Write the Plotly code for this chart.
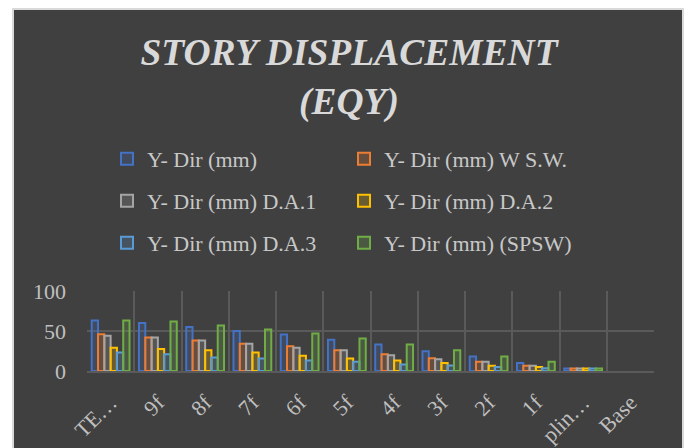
import plotly.graph_objects as go

categories = ["TERRACE", "9f", "8f", "7f", "6f", "5f", "4f", "3f", "2f", "1f", "plinth", "Base"]
tick_labels = ["TE…", "9f", "8f", "7f", "6f", "5f", "4f", "3f", "2f", "1f", "plin…", "Base"]

y_dir = [63, 60, 55, 50, 45.5, 39, 33, 24.6, 18, 10, 3, 0]
y_dir_wsw = [46, 42, 38, 34, 31, 26, 21, 16, 11.7, 6.7, 3, 0]
y_dir_da1 = [44, 42, 38, 34, 29, 26, 19.6, 14.6, 11.7, 6.7, 3, 0]
y_dir_da2 = [29, 27.5, 26, 23, 19, 15.5, 13, 10, 6.7, 5, 3, 0]
y_dir_da3 = [23, 21, 17, 15.5, 13, 11.7, 8, 7, 5, 3.3, 3, 0]
y_dir_spsw = [63, 62, 57, 52, 47, 40.5, 33, 26, 18, 11.7, 3, 0]

series_names = ["Y- Dir (mm)", "Y- Dir (mm) W S.W.", "Y- Dir (mm) D.A.1",
                "Y- Dir (mm) D.A.2", "Y- Dir (mm) D.A.3", "Y- Dir (mm) (SPSW)"]
series_values = [y_dir, y_dir_wsw, y_dir_da1, y_dir_da2, y_dir_da3, y_dir_spsw]
colors = ["#4472C4", "#ED7D31", "#A5A5A5", "#FFC000", "#5B9BD5", "#70AD47"]
legend_ids = ["legend", "legend", "legend2", "legend2", "legend3", "legend3"]

def rgba(hex_color, a):
    h = hex_color.lstrip("#")
    r, g, b = int(h[0:2], 16), int(h[2:4], 16), int(h[4:6], 16)
    return f"rgba({r},{g},{b},{a})"

FONT = "Liberation Serif, Times New Roman, serif"
W, H = 686, 448
L, R, T, B = 87, 32, 291, 77
PW, PH = W - L - R, H - T - B

def px_x(p):
    return (p - L) / PW

def px_y(p):
    return (H - B - p) / PH

fig = go.Figure()
for name, vals, col, lg in zip(series_names, series_values, colors, legend_ids):
    fig.add_trace(go.Bar(
        x=categories, y=[v if v > 0 else None for v in vals], name=name, legend=lg,
        marker=dict(color=rgba(col, 0.22), line=dict(color=col, width=2)),
    ))

fig.add_shape(type="rect", xref="paper", yref="paper",
              x0=px_x(13), x1=px_x(683), y0=px_y(470), y1=px_y(9),
              fillcolor="#404040", line=dict(color="#d9d9d9", width=2), layer="below")

leg_common = dict(orientation="h", xanchor="left", yanchor="middle",
                  bgcolor="rgba(0,0,0,0)", entrywidth=192, entrywidthmode="pixels",
                  font=dict(family=FONT, size=22, color="#c8c8c8"),
                  traceorder="normal")

fig.update_layout(
    width=W, height=H, autosize=False,
    margin=dict(l=L, r=R, t=T, b=B, autoexpand=False),
    paper_bgcolor="white", plot_bgcolor="#404040",
    barmode="group", bargap=0.2, bargroupgap=0,
    title=dict(text="STORY DISPLACEMENT<br>(EQY)", x=349 / W, xanchor="center",
               xref="container", yref="container", y=1 - 65 / H, yanchor="middle",
               font=dict(family=FONT, size=37.5, color="#d9d9d9", weight="bold", style="italic")),
    legend=dict(x=px_x(107), y=px_y(159), **leg_common),
    legend2=dict(x=px_x(107), y=px_y(201), **leg_common),
    legend3=dict(x=px_x(107), y=px_y(243), **leg_common),
    xaxis=dict(tickvals=categories, ticktext=tick_labels, tickangle=-45,
               tickson="boundaries", showgrid=True, gridcolor="#5a5a5a", gridwidth=2,
               ticks="", showline=True, linecolor="#5a5a5a", linewidth=2,
               ticklabelstandoff=8, automargin=False,
               tickfont=dict(family=FONT, size=22, color="#bfbfbf")),
    yaxis=dict(range=[0, 100], tickvals=[0, 50, 100], showgrid=True,
               gridcolor="#5a5a5a", gridwidth=2, zeroline=False, ticks="",
               ticklabelstandoff=20, automargin=False,
               tickfont=dict(family=FONT, size=22, color="#bfbfbf")),
)

fig.write_html("out.html", config={"displayModeBar": False},
               post_script="document.body.style.margin='0';")
